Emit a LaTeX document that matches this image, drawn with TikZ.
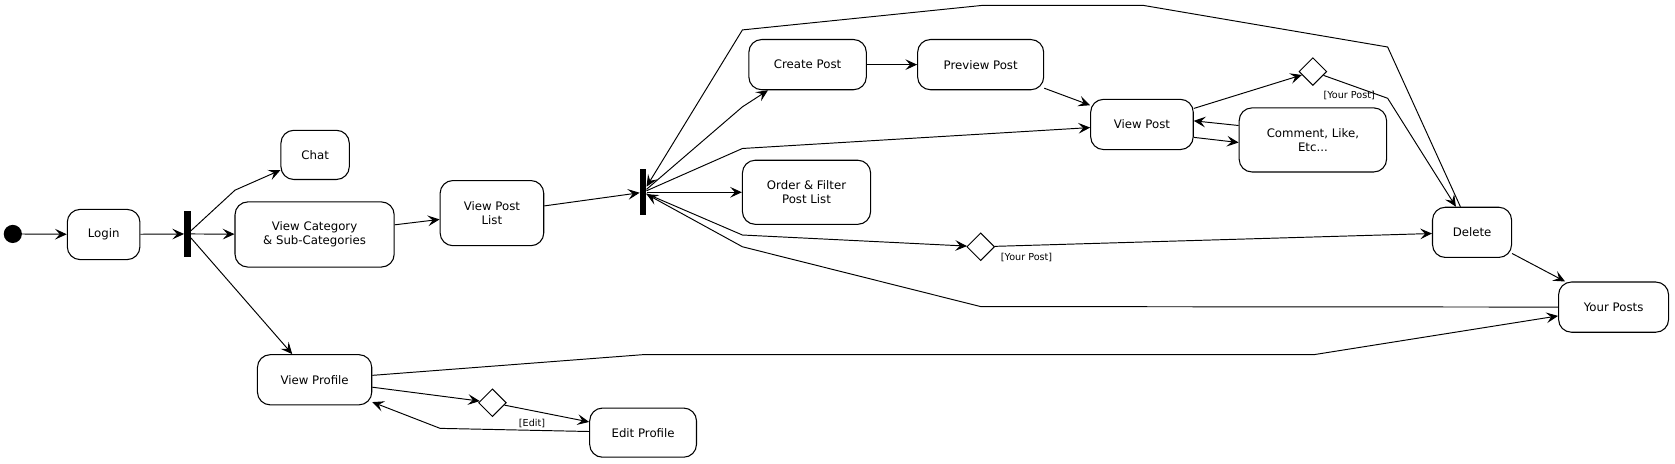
\documentclass[tikz,border=0pt]{standalone}
\usepackage{fontspec}
\setmainfont{DejaVu Sans}
\usepackage{tikz}
\usetikzlibrary{arrows.meta,shapes.geometric}

\begin{document}
\begin{tikzpicture}[x=1pt,y=-1pt,
        act/.style={draw=black, line width=1pt, rounded corners=12pt, align=center, inner sep=0pt, font={\fontsize{11}{13.5}\selectfont}},
        bar/.style={fill=black, minimum width=6pt, minimum height=43pt, inner sep=0pt},
        choice/.style={draw=black, line width=0.9pt, diamond, minimum width=26pt, minimum height=26pt, inner sep=0pt},
        flow/.style={line width=0.9pt, -{Stealth[length=11pt,width=10pt,inset=4.5pt]}},
        guard/.style={font={\fontsize{9}{10}\selectfont}}]
    \useasboundingbox (0,0) rectangle (1568,434);

    \node[circle, fill=black, minimum size=17pt, inner sep=0pt] (start) at (12,219) {};
    \node[act, minimum width=68pt, minimum height=47pt] (login) at (97,219.5) {Login};
    \node[bar] (bar1) at (175.5,219) {};
    \node[act, minimum width=64pt, minimum height=46pt] (chat) at (295,145) {Chat};
    \node[act, minimum width=149pt, minimum height=61pt] (vcat) at (294.5,219.5) {View Category\\\& Sub-Categories};
    \node[act, minimum width=97pt, minimum height=61pt] (vplist) at (460.5,199.5) {View Post\\List};
    \node[act, minimum width=107pt, minimum height=47pt] (vprof) at (294.5,355.5) {View Profile};
    \node[choice] (dbot) at (461,377) {};
    \node[act, minimum width=100pt, minimum height=46pt] (editp) at (602,405) {Edit Profile};
    \node[bar] (bar2) at (602,180) {};
    \node[act, minimum width=110pt, minimum height=47pt] (create) at (756,60.5) {Create Post};
    \node[act, minimum width=118pt, minimum height=47pt] (preview) at (918,60.5) {Preview Post};
    \node[act, minimum width=120pt, minimum height=60pt] (order) at (755,180) {Order \& Filter\\Post List};
    \node[act, minimum width=96pt, minimum height=47pt] (vpost) at (1069,116.5) {View Post};
    \node[act, minimum width=138pt, minimum height=60pt] (comment) at (1229,131) {Comment, Like,\\Etc...};
    \node[choice] (dtop) at (1229,67) {};
    \node[choice] (dmid) at (918,231) {};
    \node[act, minimum width=74pt, minimum height=47pt] (delete) at (1378,217.5) {Delete};
    \node[act, minimum width=103pt, minimum height=47pt] (yposts) at (1510.5,287.5) {Your Posts};

    \node[guard] (gtop) at (1263,89) {[Your Post]};
    \node[guard] (gmid) at (961,241) {[Your Post]};
    \node[guard] (gedit) at (498,396) {[Edit]};

    \draw[flow] (start) -- (login);
    \draw[flow] (login) -- (bar1);
    \draw[flow] (bar1) -- (220,178) -- (chat);
    \draw[flow] (bar1) -- (vcat);
    \draw[flow] (bar1) -- (vprof);
    \draw[flow] (vcat) -- (vplist);
    \draw[flow] (vplist) -- (bar2);
    \draw[flow] (bar2) -- (695,100) -- (create);
    \draw[flow] (bar2) -- (695,139) -- (vpost);
    \draw[flow] (bar2) -- (order);
    \draw[flow] (bar2) -- (695,220) -- (dmid);
    \draw[flow] (create) -- (preview);
    \draw[flow] (preview) -- (vpost);
    \draw[flow] (vpost) -- (dtop);
    \draw[flow] (comment.169) -- (vpost.4);
    \draw[flow] (vpost.-14) -- (comment.182);
    \draw[flow] (dtop) -- (1299,92) -- (delete);
    \draw[flow] (dmid) -- (delete);
    \draw[flow] (delete) -- (yposts);
    \draw[flow] (delete) -- (1299,44) -- (1070,5) -- (920,5) -- (695,28) -- (bar2);
    \draw[flow] (yposts) -- (918,287) -- (695,231) -- (bar2);
    \draw[flow] (vprof) -- (dbot);
    \draw[flow] (dbot) -- (editp);
    \draw[flow] (editp) -- (412,401) -- (vprof);
    \draw[flow] (vprof) -- (602,332) -- (1230,332) -- (yposts);
\end{tikzpicture}
\end{document}
